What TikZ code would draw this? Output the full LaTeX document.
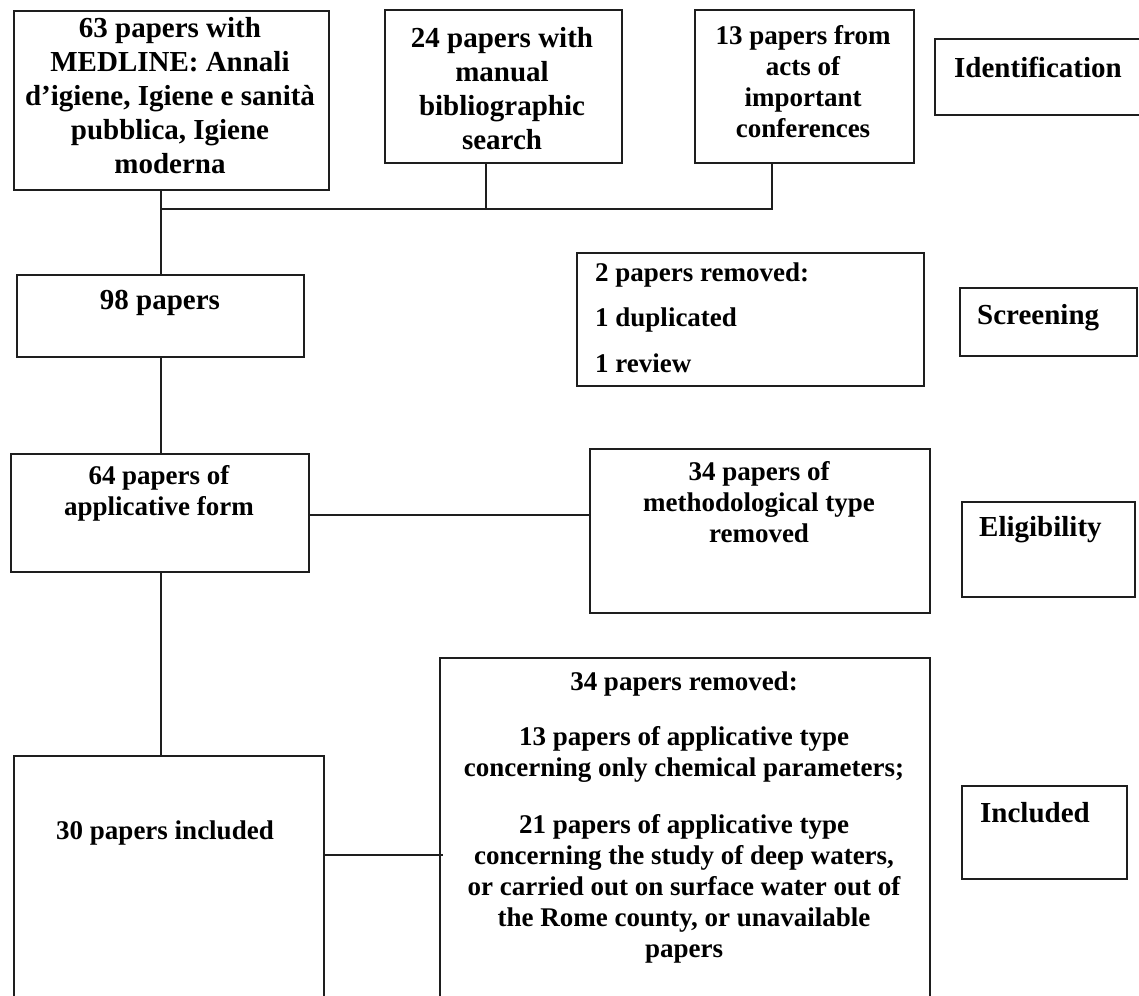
\documentclass[tikz,border=0pt]{standalone}
\usepackage{fontspec}
\setmainfont{Liberation Serif}
\definecolor{ink}{HTML}{1E1E1E}
\begin{document}
\begin{tikzpicture}[x=1pt,y=-1pt,
  box/.style={draw=ink, line width=1.8pt, anchor=north west, inner sep=0pt},
  txt/.style={font=\bfseries\fontsize{29}{34}\selectfont, align=center, inner sep=0pt, text=black},
  txtsm/.style={font=\bfseries\fontsize{27}{31}\selectfont, align=center, inner sep=0pt, text=black},
  lbl/.style={font=\bfseries\fontsize{29}{34}\selectfont, anchor=west, inner sep=0pt, text=black},
  link/.style={draw=ink, line width=1.4pt}]
\useasboundingbox (0,0) rectangle (1139,995);
\clip (0,0) rectangle (1139,995);
\fill[white] (0,0) rectangle (1139,995);

% boxes
\node[box, minimum width=315pt, minimum height=179pt] (A) at (13,10) {};
\node[box, minimum width=237pt, minimum height=153pt] (B) at (384,9) {};
\node[box, minimum width=219pt, minimum height=153pt] (C) at (694,9) {};
\node[box, minimum width=215pt, minimum height=76pt] (Id) at (934,38) {};
\node[box, minimum width=287pt, minimum height=82pt] (N98) at (16,274) {};
\node[box, minimum width=347pt, minimum height=133pt] (R2) at (576,252) {};
\node[box, minimum width=177pt, minimum height=68pt] (Scr) at (959,287) {};
\node[box, minimum width=298pt, minimum height=118pt] (N64) at (10,453) {};
\node[box, minimum width=340pt, minimum height=164pt] (M34) at (589,448) {};
\node[box, minimum width=173pt, minimum height=95pt] (Elig) at (961,501) {};
\node[box, minimum width=310pt, minimum height=250pt] (N30) at (13,755) {};
\node[box, minimum width=490pt, minimum height=350pt] (R34) at (439,657) {};
\node[box, minimum width=165pt, minimum height=93pt] (Incl) at (961,785) {};

% texts
\node[txt] (At) at (170,96) {63 papers with\\MEDLINE: Annali\\d’igiene, Igiene e sanità\\pubblica, Igiene\\moderna};
\node[txt] (Bt) at (502,89) {24 papers with\\manual\\bibliographic\\search};
\node[txtsm] (Ct) at (803,82) {13 papers from\\acts of\\important\\conferences};
\node[lbl] (Idt) at (954,67) {Identification};
\node[txt] (N98t) at (160,303) {98 papers};
\node[txtsm, anchor=west, align=left] (R2t) at (595,317.5) {2 papers removed:\\[14.5pt]1 duplicated\\[14.5pt]1 review};
\node[lbl] (Scrt) at (977,318) {Screening};
\node[txtsm] (N64t) at (159,493.5) {64 papers of\\applicative form};
\node[txtsm] (M34t) at (759,502) {34 papers of\\methodological type\\removed};
\node[lbl] (Eligt) at (979,530) {Eligibility};
\node[txtsm] (N30t) at (165,833) {30 papers included};
\node[txtsm] (R34t) at (684,817.5) {34 papers removed:\\[24pt]13 papers of applicative type\\concerning only chemical parameters;\\[26pt]21 papers of applicative type\\concerning the study of deep waters,\\or carried out on surface water out of\\the Rome county, or unavailable\\papers};
\node[lbl] (Inclt) at (980,813) {Included};

% junctions
\coordinate (jA) at (161,209);
\coordinate (jB) at (486,209);
\coordinate (jC) at (772,209);
\coordinate (e1) at (450,515);
\coordinate (e2) at (380,855);

% connectors
\draw[link] (A.south -| jA) -- (jA) -- (jC) -- (C.south -| jC);
\draw[link] (B.south -| jB) -- (jB);
\draw[link] (jA) -- (N98.north -| jA);
\draw[link] (N98.south -| jA) -- (N64.north -| jA);
\draw[link] (N64.south -| jA) -- (N30.north -| jA);
\draw[link] (N64.east |- e1) -- (M34.west |- e1);
\draw[link] (N30.east |- e2) -- ([xshift=4pt]R34.west |- e2);
\end{tikzpicture}
\end{document}
